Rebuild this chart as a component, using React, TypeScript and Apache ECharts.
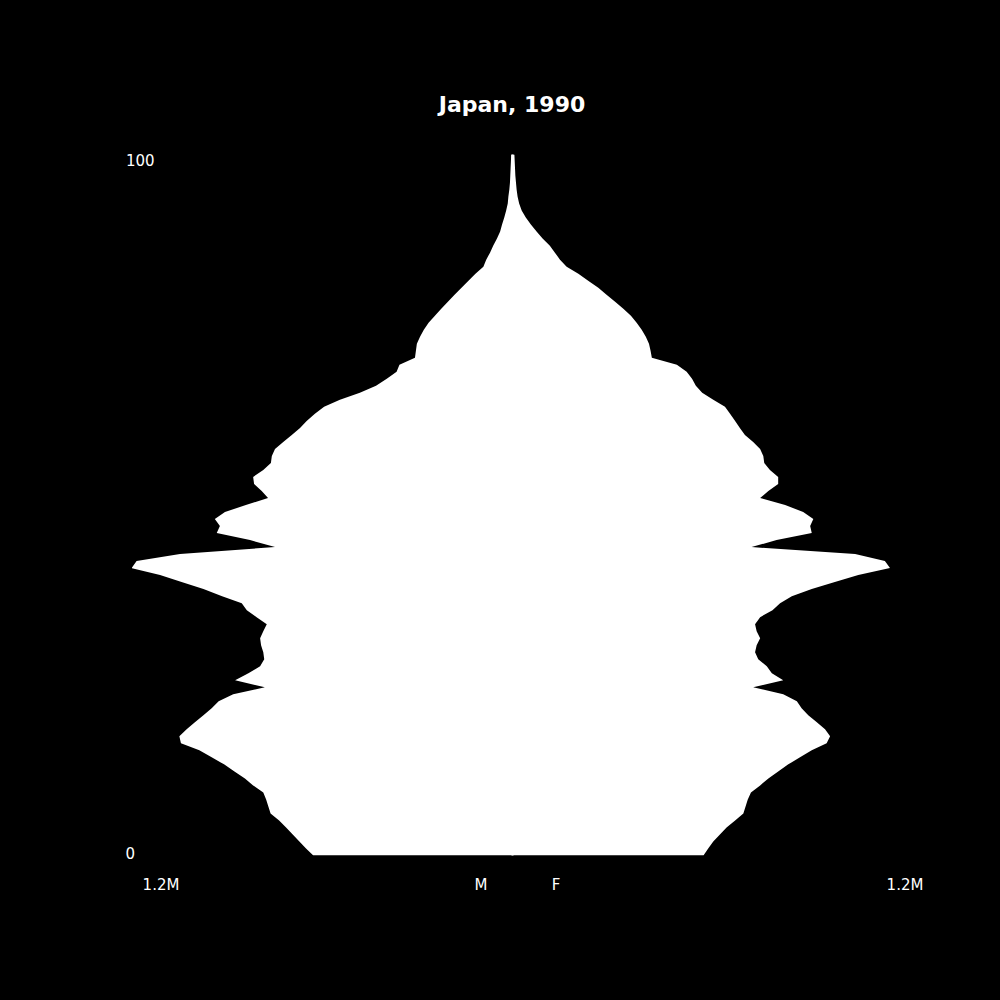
import React, { useEffect, useRef } from 'react'
import * as echarts from 'echarts'

// ages 0..100, population in thousands
const ages = Array.from({ length: 101 }, (_, i) => String(i))

const male = [
    629, 652, 673, 694, 715, 737, 764, 771, 778, 787,
    819, 845, 878, 911, 950, 989, 1047, 1052, 1029, 1003,
    976, 950, 928, 882, 782, 876, 834, 797, 784, 787,
    794, 797, 787, 776, 808, 839, 855, 917, 976, 1045,
    1113, 1203, 1187, 1050, 750, 829, 934, 924, 940, 908,
    842, 772, 792, 816, 819, 787, 763, 760, 750, 724,
    697, 671, 650, 624, 595, 545, 482, 431, 397, 366,
    357, 308, 305, 302, 292, 280, 265, 245, 225, 204,
    183, 161, 139, 117, 92, 83, 71, 61, 49, 39,
    33, 26, 20, 15, 13, 10, 8, 7, 6, 5,
    4,
]

const female = [
    603, 618, 634, 655, 676, 703, 729, 736, 743, 753,
    782, 808, 839, 871, 908, 945, 992, 1003, 987, 961,
    934, 913, 898, 855, 760, 855, 819, 803, 776, 766,
    771, 782, 771, 766, 782, 821, 845, 882, 945, 1018,
    1092, 1192, 1176, 1082, 755, 834, 945, 940, 950, 918,
    861, 782, 808, 839, 839, 813, 795, 792, 782, 760,
    734, 718, 703, 687, 671, 634, 599, 579, 567, 550,
    519, 440, 436, 431, 421, 408, 392, 374, 350, 324,
    297, 271, 239, 208, 171, 150, 134, 118, 95, 76,
    58, 42, 29, 21, 16, 13, 11, 9, 8, 7,
    6,
]

const font = 'DejaVu Sans'

const App: React.FC = () => {
    const chartRef = useRef(null)

    useEffect(() => {
        const chart = echarts.init(chartRef.current, null, { renderer: 'svg' })

        const label = (text: string, x: number, y: number, align = 'center') => ({
            type: 'text',
            x,
            y,
            style: {
                text,
                fill: '#fff',
                font: `15px '${font}'`,
                textAlign: align,
                textVerticalAlign: 'middle',
            },
        })

        const option = {
            animation: false,
            backgroundColor: '#000',
            grid: { left: 132.5, right: 107.5, top: 154.5, bottom: 144.5 },
            xAxis: {
                type: 'value',
                min: -1200,
                max: 1200,
                show: false,
            },
            yAxis: {
                type: 'category',
                data: ages,
                boundaryGap: false,
                show: false,
            },
            graphic: [
                {
                    type: 'text',
                    x: 512,
                    y: 104,
                    style: {
                        text: 'Japan, 1990',
                        fill: '#fff',
                        font: `bold 22px '${font}'`,
                        textAlign: 'center',
                        textVerticalAlign: 'middle',
                    },
                },
                label('100', 126, 161, 'left'),
                label('0', 125.5, 854, 'left'),
                label('1.2M', 161, 884.5),
                label('M', 481, 884.5),
                label('F', 556, 884.5),
                label('1.2M', 905, 884.5),
            ],
            series: [
                {
                    name: 'M',
                    type: 'line',
                    data: male.map((v) => -v),
                    showSymbol: false,
                    lineStyle: { width: 0, color: '#fff' },
                    areaStyle: { color: '#fff', opacity: 1 },
                },
                {
                    name: 'F',
                    type: 'line',
                    data: female,
                    showSymbol: false,
                    lineStyle: { width: 0, color: '#fff' },
                    areaStyle: { color: '#fff', opacity: 1 },
                },
                {
                    // covers the seam where the two areas meet
                    name: 'seam',
                    type: 'line',
                    data: ages.map(() => 0),
                    showSymbol: false,
                    lineStyle: { width: 2, color: '#fff', cap: 'butt' },
                },
            ],
        }

        chart.setOption(option)

        return () => {
            chart.dispose()
        }
    }, [])

    return <div ref={chartRef} style={{ position: 'fixed', left: 0, top: 0, width: '1000px', height: '1000px' }} />
}

export default App
